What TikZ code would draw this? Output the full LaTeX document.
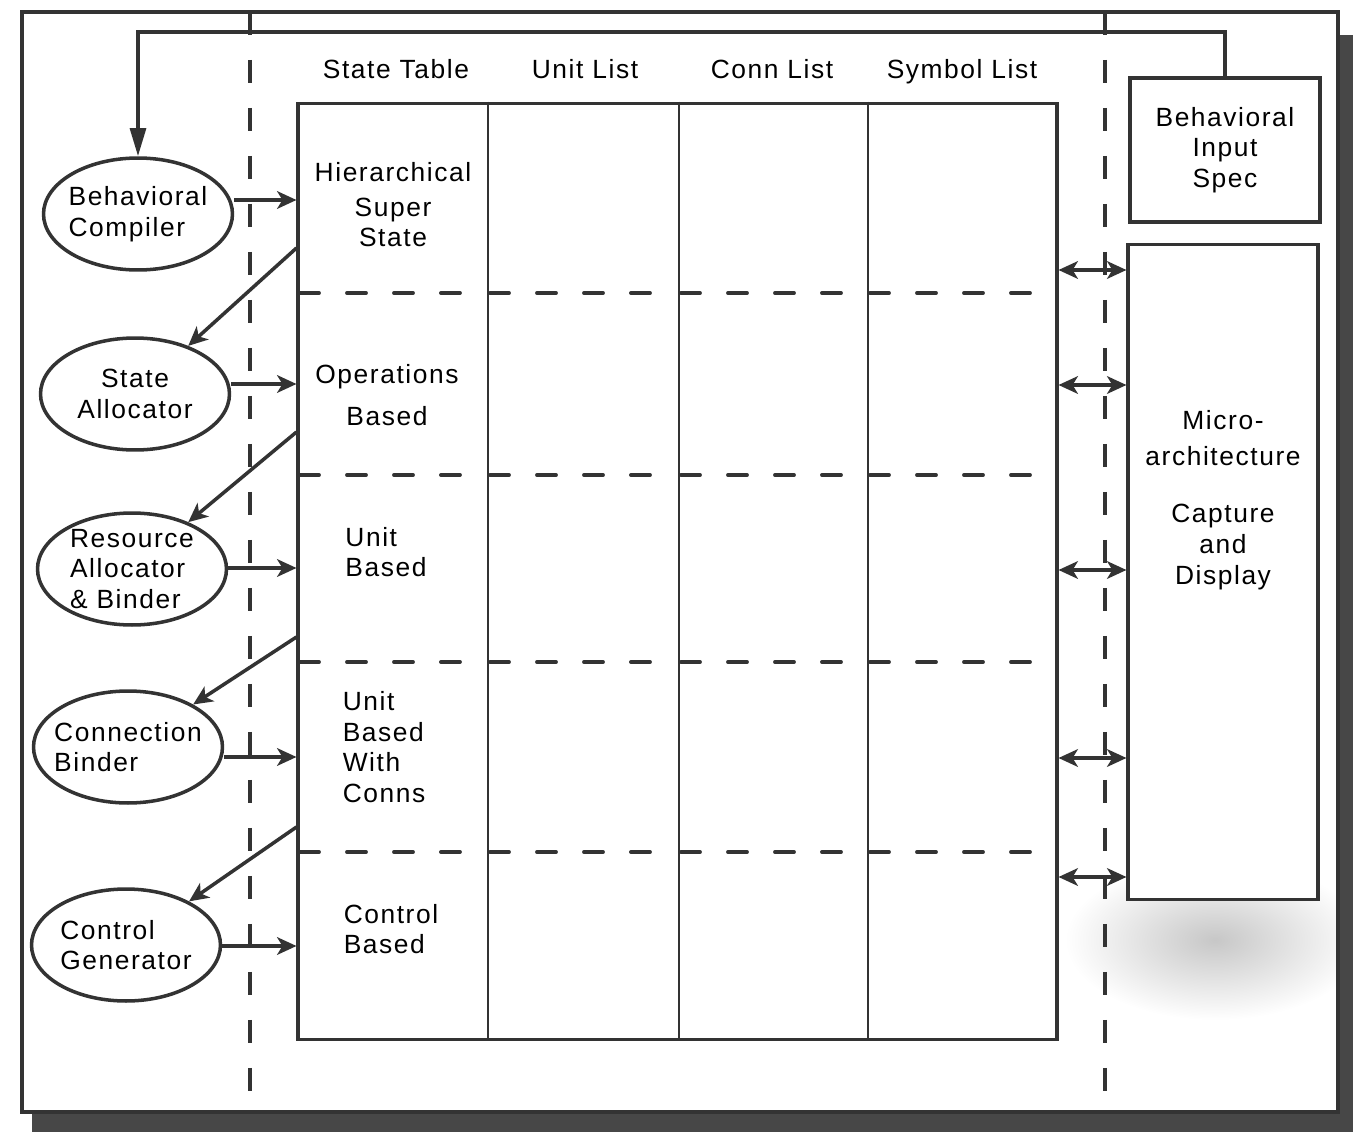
\documentclass[tikz,border=0pt]{standalone}
\usepackage{fontspec}
\usepackage{tikz}
\usetikzlibrary{arrows.meta,shapes.geometric}
\newfontfamily\diafont[LetterSpace=6]{Liberation Sans}
\newcommand\dfs{\diafont\fontsize{15}{17.5}\selectfont}
\definecolor{inkcol}{gray}{0.2}
\definecolor{shadowcol}{gray}{0.28}
\tikzset{
  frameline/.style={draw=inkcol,line width=2.6pt},
  tblframe/.style={draw=inkcol,line width=1.8pt,minimum width=15.18cm,minimum height=18.74cm,inner sep=0pt},
  colline/.style={draw=inkcol,line width=1.2pt},
  rowdash/.style={draw=inkcol,line width=2.2pt,line cap=round,dash pattern=on 0.38cm off 0.56cm},
  vdash/.style={draw=inkcol,line width=2.8pt,dash pattern=on 0.46cm off 0.5cm},
  ell/.style={draw=inkcol,ellipse,line width=2pt,fill=white,minimum width=3.78cm,minimum height=2.24cm,inner sep=-8pt,font=\dfs,align=left},
  specbox/.style={draw=inkcol,line width=1.8pt,fill=white,minimum width=3.8cm,inner sep=0pt,font=\dfs,align=center},
  hdr/.style={font=\dfs,text height=1.6ex,text depth=0.4ex},
  celltext/.style={font=\dfs,align=left},
  arr/.style={draw=inkcol,line width=2pt,-{Stealth[length=11pt,width=10pt,inset=3pt]}},
  darr/.style={draw=inkcol,line width=2pt,{Stealth[length=11pt,width=10pt,inset=3pt]}-{Stealth[length=11pt,width=10pt,inset=3pt]}},
  fbarr/.style={draw=inkcol,line width=2pt,-{Triangle[length=16pt,width=9pt]}},
}
\begin{document}
\begin{tikzpicture}[x=0.02cm,y=-0.02cm]
  \fill[white] (0,0) rectangle (1353,1132);
  \useasboundingbox (0,0) rectangle (1353,1132);
  % light shading, shadow and frame
  \begin{scope}
    \clip (22,12) rectangle (1338,1112);
    \shade[inner color=black!22,outer color=white] (1215,940) ellipse [x radius=150,y radius=80];
  \end{scope}
  \fill[shadowcol] (32,1112) rectangle (1353,1132);
  \fill[shadowcol] (1338,35) rectangle (1353,1132);
  \draw[frameline] (22,12) rectangle (1338,1112);
  % the table
  \node[tblframe] (tbl) at (677.5,571.5) {};
  \foreach \cx in {488,679,868}
    \draw[colline] (\cx,0 |- tbl.north) -- (\cx,0 |- tbl.south);
  \foreach \ry in {293,475,662,852}
    \foreach \ca/\cb in {298/488,488/679,679/868,868/1057}
      \draw[rowdash] (\ca+2,\ry) -- (\cb-20,\ry);
  \node[hdr] (hst) at (396,74) {State Table};
  \node[hdr] (hul) at (585,74) {Unit List};
  \node[hdr] (hcl) at (772,74) {Conn List};
  \node[hdr] (hsl) at (962,74) {Symbol List};
  \node[celltext,align=center] (hier) at (393,205) {Hierarchical\\[2pt]Super\\State};
  \node[celltext,align=center] (ops) at (387,395) {Operations\\[6pt]Based};
  \node[celltext] (unit) at (386,552) {Unit\\Based};
  \node[celltext] (unitc) at (384,747) {Unit\\Based\\With\\Conns};
  \node[celltext] (ctrl) at (391,929) {Control\\Based};
  % synthesis steps
  \node[ell] (bc) at (138,214) {Behavioral\\Compiler};
  \node[ell,align=center] (sa) at (135,394) {State\\Allocator};
  \node[ell] (ra) at (132,569) {Resource\\Allocator\\\& Binder};
  \node[ell] (cb) at (128,747) {Connection\\Binder};
  \node[ell] (cg) at (126,945) {Control\\Generator};
  % right side
  \node[specbox,minimum height=2.88cm] (bis) at (1225,150) {Behavioral\\Input\\Spec};
  \node[specbox,minimum height=13.1cm] (mac) at (1223,572) {};
  \node[font=\dfs,align=center] (mactxt) at (1223,500) {Micro-\\[3pt]architecture\\[15pt]Capture\\and\\Display};
  % dashed boundaries
  \draw[vdash] (250,12) -- (250,1112);
  \draw[vdash] (1105,12) -- (1105,1112);
  % connectors
  \foreach \n/\y in {1/200,2/384,3/568,4/757,5/946}
    \coordinate (in\n) at (tbl.west |- 0,\y);
  \foreach \n/\y in {1/248,2/432,3/637,4/827}
    \coordinate (out\n) at (tbl.west |- 0,\y);
  \draw[arr] (in1 -| bc.east) -- (in1);
  \draw[arr] (in2 -| sa.east) -- (in2);
  \draw[arr] (in3 -| ra.east) -- (in3);
  \draw[arr] (in4 -| cb.east) -- (in4);
  \draw[arr] (in5 -| cg.east) -- (in5);
  \draw[arr] (out1) -- (sa);
  \draw[arr] (out2) -- (ra);
  \draw[arr] (out3) -- (cb);
  \draw[arr] (out4) -- (cg);
  \foreach \y in {270,385,570,758,877}
    \draw[darr] (tbl.east |- 0,\y) -- (mac.west |- 0,\y);
  \draw[fbarr] (bis.north) -- (bis.north |- 0,32) -- (bc.north |- 0,32) -- (bc.north);
\end{tikzpicture}
\end{document}
